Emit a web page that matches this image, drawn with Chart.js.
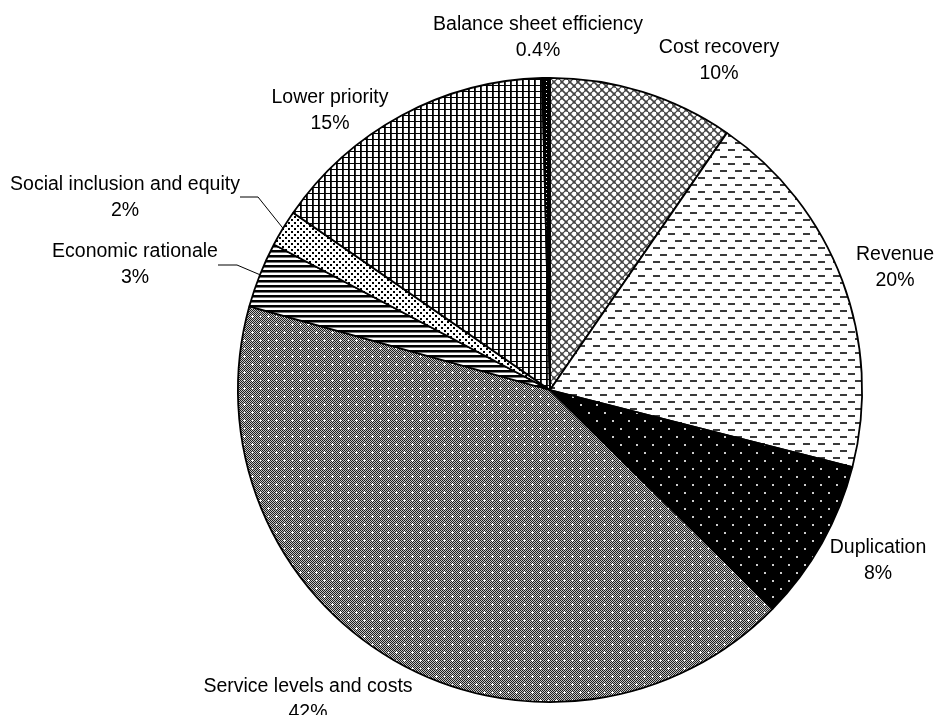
<!DOCTYPE html>
<html>
<head>
<meta charset="utf-8">
<title>Savings options by category</title>
<script src="https://cdn.jsdelivr.net/npm/chart.js@4.4.1/dist/chart.umd.min.js"></script>
<style>
    html, body { margin: 0; padding: 0; background: #fff; }
    #wrap { width: 934px; height: 715px; }
</style>
</head>
<body>
<div id="wrap"><canvas id="pieChart" width="934" height="715"></canvas></div>
<script>
// Slices, clockwise from 12 o'clock
const categories = ['Cost recovery', 'Revenue', 'Duplication', 'Service levels and costs',
    'Economic rationale', 'Social inclusion and equity', 'Lower priority', 'Balance sheet efficiency'];
const shares = [9.6, 19.4, 8.4, 42.0, 3.4, 1.9, 15.0, 0.4];
const shareLabels = ['10%', '20%', '8%', '42%', '3%', '2%', '15%', '0.4%'];

// Label anchors: centre x and baseline of the first line
const labelX = [719, 895, 878, 308, 135, 125, 330, 538];
const labelY = [53, 260, 553, 692, 257, 190, 103, 30];
// Leader lines: [x start, y, x of elbow] for labels set away from the pie
const leaders = { 4: [218, 265, 237], 5: [240, 197, 258] };

const FONT = '19.5px "Liberation Sans", Arial, sans-serif';
const LINE_H = 26;

// Pattern helpers
function makeTile(w, h, draw) {
    const c = document.createElement('canvas');
    c.width = w;
    c.height = h;
    const g = c.getContext('2d');
    draw(g);
    return g.createPattern(c, 'repeat');
}

function bitmapTile(rows, colors) {
    return makeTile(rows[0].length, rows.length, g => {
        rows.forEach((row, y) => {
            for (let x = 0; x < row.length; x++) {
                g.fillStyle = colors[row[x]];
                g.fillRect(x, y, 1, 1);
            }
        });
    });
}

// Cost recovery - weave
const weave = makeTile(8, 8, g => {
    g.fillStyle = '#fff';
    g.fillRect(0, 0, 8, 8);
    g.strokeStyle = '#444';
    g.lineWidth = 1.6;
    g.beginPath();
    g.moveTo(0, 0); g.lineTo(8, 8);
    g.moveTo(-4, 4); g.lineTo(0, 8);
    g.moveTo(4, 0); g.lineTo(0, 4);
    g.moveTo(8, 4); g.lineTo(4, 8);
    g.moveTo(8, -4); g.lineTo(12, 0);
    g.stroke();
});

// Revenue - staggered dashes
const dashes = makeTile(15, 14, g => {
    g.fillStyle = '#fff';
    g.fillRect(0, 0, 15, 14);
    g.fillStyle = '#3a3a3a';
    g.fillRect(0, 2, 7, 2);
    g.fillRect(8, 9, 7, 2);
});

// Duplication - white dots on black
const darkDots = makeTile(16, 16, g => {
    g.fillStyle = '#000';
    g.fillRect(0, 0, 16, 16);
    g.fillStyle = '#ccc';
    g.fillRect(4, 4, 2, 2);
    g.fillRect(12, 12, 2, 2);
});

// Service levels - grey checker with white crosses
const crossChecker = makeTile(16, 16, g => {
    for (let y = 0; y < 16; y++) {
        for (let x = 0; x < 16; x++) {
            g.fillStyle = (x + y) % 2 ? '#c4c4c4' : '#1e1e1e';
            g.fillRect(x, y, 1, 1);
        }
    }
    g.fillStyle = '#fff';
    [[4, 4], [12, 12]].forEach(([cx, cy]) => {
        g.fillRect(cx - 1, cy, 3, 1);
        g.fillRect(cx, cy - 1, 1, 3);
    });
    g.fillRect(12, 4, 1, 1);
    g.fillRect(4, 12, 1, 1);
});

// Economic rationale - horizontal stripes
const stripes = bitmapTile(['X', 'X', 'g', '.', '.'], { X: '#000', g: '#777', '.': '#fff' });

// Social inclusion - small black squares
const smallDots = bitmapTile([
    'XX....',
    'XX....',
    '......',
    '...XX.',
    '...XX.',
    '......'
], { X: '#000', '.': '#fff' });

// Lower priority - grid
const grid = bitmapTile([
    'Xg....',
    'XXXXXX',
    'Xg....',
    'Xg....',
    'Xg....',
    'Xg....'
], { X: '#000', g: '#333', '.': '#fff' });

// Balance sheet efficiency - black with specks
const blackSpeck = bitmapTile([
    'XXXX',
    'XX.X',
    'XXXX',
    'XXXX'
], { X: '#000', '.': '#fff' });

const fills = [weave, dashes, darkDots, crossChecker, stripes, smallDots, grid, blackSpeck];

// Labels and leader lines
const sliceLabels = {
    id: 'sliceLabels',
    afterDatasetsDraw(chart) {
        const ctx = chart.ctx;
        const arcs = chart.getDatasetMeta(0).data;
        ctx.save();
        ctx.font = FONT;
        ctx.fillStyle = '#000';
        ctx.textAlign = 'center';
        ctx.textBaseline = 'alphabetic';
        categories.forEach((name, i) => {
            ctx.fillText(name, labelX[i], labelY[i]);
            ctx.fillText(shareLabels[i], labelX[i], labelY[i] + LINE_H);
        });

        ctx.strokeStyle = '#000';
        ctx.lineWidth = 1;
        Object.keys(leaders).forEach(k => {
            const arc = arcs[k];
            const mid = (arc.startAngle + arc.endAngle) / 2;
            const [x0, y0, xe] = leaders[k];
            ctx.beginPath();
            ctx.moveTo(x0, y0);
            ctx.lineTo(xe, y0);
            ctx.lineTo(arc.x + Math.cos(mid) * arc.outerRadius, arc.y + Math.sin(mid) * arc.outerRadius);
            ctx.stroke();
        });
        ctx.restore();
    }
};

// Render pie
const ctx = document.getElementById('pieChart').getContext('2d');
new Chart(ctx, {
    type: 'pie',
    data: {
        labels: categories,
        datasets: [{
            data: shares,
            backgroundColor: fills,
            borderColor: '#000',
            borderWidth: 1.8
        }]
    },
    options: {
        responsive: false,
        animation: false,
        devicePixelRatio: 1,
        layout: { padding: { left: 237, right: 71, top: 77, bottom: 12 } },
        plugins: {
            legend: { display: false },
            tooltip: { enabled: false }
        }
    },
    plugins: [sliceLabels]
});
</script>
</body>
</html>
